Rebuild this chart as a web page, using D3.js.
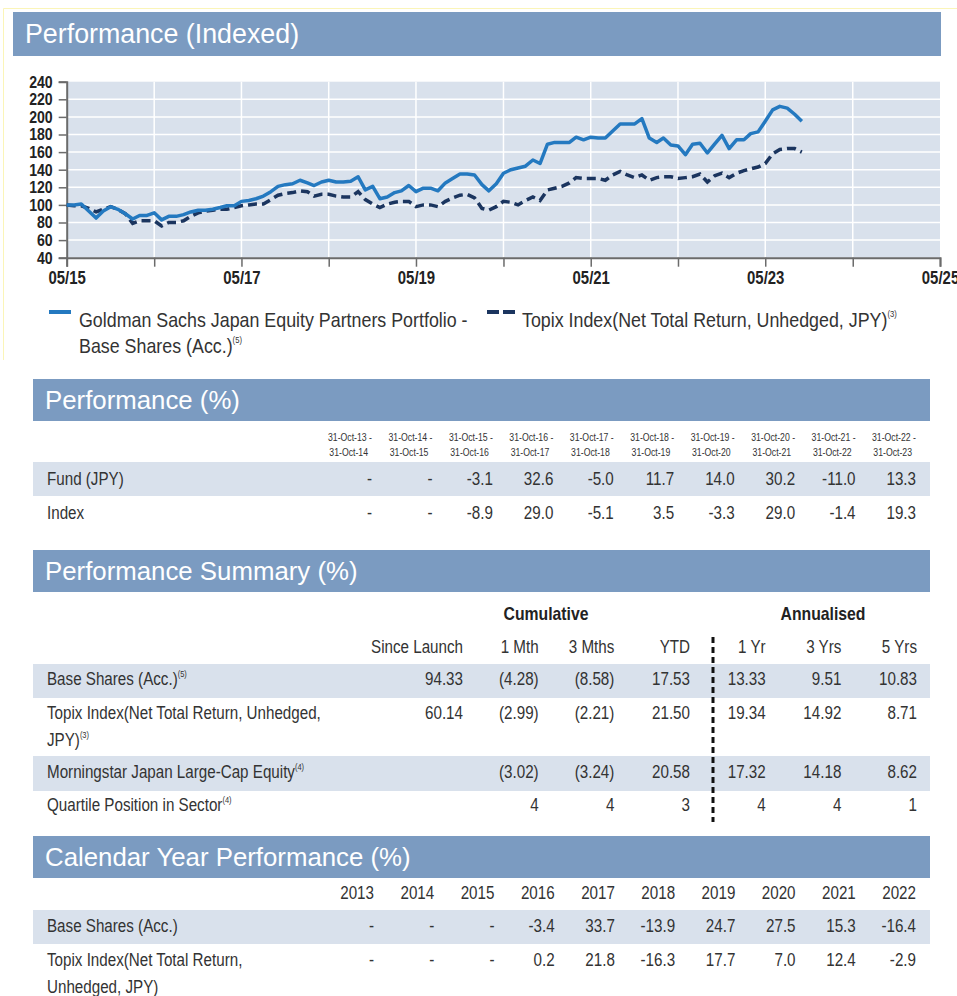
<!DOCTYPE html>
<html>
<head>
<meta charset="utf-8">
<script src="https://cdn.jsdelivr.net/npm/d3@7"></script>
<style>
  body { margin: 0; background: #fff; }
  svg { display: block; }
  text { font-family: "Liberation Sans", Arial, sans-serif; }
  .title { fill: #fff; font-size: 25.8px; }
</style>
</head>
<body>
<div id="chart"></div>
<script>
// monthly index values, 05/15 .. 10/23
const fundValues = [
  100, 100, 101, 93, 85, 93, 98, 95, 90, 84, 88, 88,
  91, 83, 87, 87, 89, 92, 94, 94, 95, 97, 99, 99,
  104, 105, 107, 110, 115, 121, 123, 124, 128, 125, 122, 126,
  128, 126, 126, 127, 132, 117, 121, 107, 109, 114, 116, 122,
  115, 119, 119, 116, 125, 130, 135, 135, 134, 123, 116, 124,
  136, 140, 142, 144, 151, 147, 169, 171, 171, 171, 177, 174,
  177, 176, 176, 184, 192, 192, 192, 198, 176, 171, 176, 168,
  167, 157, 169, 170, 159, 169, 179, 164, 174, 174, 181, 183,
  195, 208, 212, 210, 203, 195
];
const indexValues = [
  100, 99, 99, 96, 92, 95, 98, 95, 90, 79, 82, 82,
  82, 76, 80, 80, 82, 87, 91, 93, 94, 95, 95, 97,
  99, 100, 101, 101, 106, 111, 113, 114, 116, 115, 110, 112,
  112, 110, 109, 109, 115, 106, 101, 97, 101, 103, 104, 104,
  98, 100, 100, 98, 104, 108, 111, 112, 108, 96, 94, 98,
  104, 103, 100, 105, 109, 105, 117, 119, 121, 125, 131, 130,
  130, 130, 128, 134, 138, 134, 131, 134, 128, 131, 132, 132,
  130, 131, 132, 135, 126, 133, 136, 131, 136, 139, 141, 143,
  147, 158, 163, 164, 164, 160
];
const yTicks = [40, 60, 80, 100, 120, 140, 160, 180, 200, 220, 240];
const xTickLabels = ["05/15", "", "05/17", "", "05/19", "", "05/21", "", "05/23", "", "05/25"];

const perfPeriods = [
  ["31-Oct-13 -", "31-Oct-14"], ["31-Oct-14 -", "31-Oct-15"], ["31-Oct-15 -", "31-Oct-16"],
  ["31-Oct-16 -", "31-Oct-17"], ["31-Oct-17 -", "31-Oct-18"], ["31-Oct-18 -", "31-Oct-19"],
  ["31-Oct-19 -", "31-Oct-20"], ["31-Oct-20 -", "31-Oct-21"], ["31-Oct-21 -", "31-Oct-22"],
  ["31-Oct-22 -", "31-Oct-23"]
];
const perfFund = ["-", "-", "-3.1", "32.6", "-5.0", "11.7", "14.0", "30.2", "-11.0", "13.3"];
const perfIndex = ["-", "-", "-8.9", "29.0", "-5.1", "3.5", "-3.3", "29.0", "-1.4", "19.3"];

const summaryColumns = ["Since Launch", "1 Mth", "3 Mths", "YTD", "1 Yr", "3 Yrs", "5 Yrs"];
const summaryBase = ["94.33", "(4.28)", "(8.58)", "17.53", "13.33", "9.51", "10.83"];
const summaryTopix = ["60.14", "(2.99)", "(2.21)", "21.50", "19.34", "14.92", "8.71"];
const summaryMorningstar = ["", "(3.02)", "(3.24)", "20.58", "17.32", "14.18", "8.62"];
const summaryQuartile = ["", "4", "4", "3", "4", "4", "1"];

const calendarYears = ["2013", "2014", "2015", "2016", "2017", "2018", "2019", "2020", "2021", "2022"];
const calBase = ["-", "-", "-", "-3.4", "33.7", "-13.9", "24.7", "27.5", "15.3", "-16.4"];
const calTopix = ["-", "-", "-", "0.2", "21.8", "-16.3", "17.7", "7.0", "12.4", "-2.9"];

const W = 957, H = 996;
const SX = 0.83; // horizontal squeeze to mimic a condensed face
const headerColor = "#7b9bc1";
const bandColor = "#d9e1ec";
const textColor = "#333";
const fundColor = "#2479c0";
const indexColor = "#1b355f";

const svg = d3.select("#chart").append("svg").attr("width", W).attr("height", H);

// faint frame round the top block
svg.append("path")
  .attr("d", "M3.5,360 V8.5 H957")
  .attr("fill", "none").attr("stroke", "#fbf5b8").attr("stroke-width", 1);

let sx0 = 13, sx1 = 941;
function sectionHeader(y, h, label, size) {
  svg.append("rect").attr("x", sx0).attr("y", y).attr("width", sx1 - sx0).attr("height", h)
    .attr("fill", headerColor);
  const t = svg.append("text").attr("class", "title").attr("x", sx0 + 12).attr("y", y + h / 2 + 9).text(label);
  if (size) t.style("font-size", size + "px");
}

// condensed text at (x, y)
function ntext(parent, x, y, size, str, sx) {
  return parent.append("text")
    .attr("transform", `translate(${x},${y}) scale(${sx || SX},1)`)
    .attr("font-size", size).attr("fill", textColor).text(str);
}

sectionHeader(12, 44, "Performance (Indexed)", 26.8);

/* ---- line chart ---- */
const start = new Date(2015, 4, 1);
const months = fundValues.map((v, i) => d3.timeMonth.offset(start, i));
const series = [
  { name: "fund", values: fundValues.map((v, i) => ({ date: months[i], value: v })) },
  { name: "index", values: indexValues.map((v, i) => ({ date: months[i], value: v })) }
];
const years = xTickLabels.map((l, i) => d3.timeMonth.offset(start, 12 * i));

const x = d3.scaleTime().domain([start, years[years.length - 1]]).range([66.7, 940]);
const y = d3.scaleLinear().domain([40, 240]).range([257.7, 81.7]);

const plot = svg.append("g");
plot.append("rect").attr("x", x.range()[0]).attr("y", y(240))
  .attr("width", x.range()[1] - x.range()[0]).attr("height", y(40) - y(240))
  .attr("fill", bandColor);

plot.append("g").selectAll("line").data(yTicks.slice(1, -1)).join("line")
  .attr("x1", x.range()[0]).attr("x2", x.range()[1])
  .attr("y1", d => y(d)).attr("y2", d => y(d))
  .attr("stroke", "#fff").attr("stroke-width", 1.5);
plot.append("g").selectAll("line").data(years.slice(1, -1)).join("line")
  .attr("x1", d => x(d)).attr("x2", d => x(d))
  .attr("y1", y(240)).attr("y2", y(40))
  .attr("stroke", "#fff").attr("stroke-width", 1.5);

const yAxis = plot.append("g")
  .attr("transform", `translate(${x.range()[0]},0)`)
  .call(d3.axisLeft(y).tickValues(yTicks).tickSize(8).tickPadding(6));
const xAxis = plot.append("g")
  .attr("transform", `translate(0,${y(40)})`)
  .call(d3.axisBottom(x).tickValues(years).tickSize(9).tickPadding(5)
    .tickFormat((d, i) => xTickLabels[i]));
[yAxis, xAxis].forEach(a => {
  a.select(".domain").attr("stroke", "#6b6b6b").attr("stroke-width", 2);
  a.selectAll(".tick line").attr("stroke", "#6b6b6b").attr("stroke-width", 1.5);
  a.selectAll("text")
    .attr("font-family", "Liberation Sans, Arial, sans-serif")
    .attr("font-weight", "bold").attr("fill", "#222")
    .attr("transform", `scale(${SX},1)`);
});
yAxis.selectAll("text").attr("font-size", 17).attr("x", -14 / SX);
xAxis.selectAll("text").attr("font-size", 18);

const line = d3.line().x(d => x(d.date)).y(d => y(d.value));
plot.append("path").datum(series[1].values)
  .attr("d", line).attr("fill", "none").attr("stroke", indexColor)
  .attr("stroke-width", 3.5).attr("stroke-dasharray", "9,5");
plot.append("path").datum(series[0].values)
  .attr("d", line).attr("fill", "none").attr("stroke", fundColor)
  .attr("stroke-width", 3.5).attr("stroke-linejoin", "round");

/* ---- legend ---- */
const legend = svg.append("g");
legend.append("line").attr("x1", 49).attr("x2", 71).attr("y1", 312).attr("y2", 312)
  .attr("stroke", fundColor).attr("stroke-width", 4);
ntext(legend, 79, 327, 21, "Goldman Sachs Japan Equity Partners Portfolio -", 0.85);
ntext(legend, 79, 353, 21, "Base Shares (Acc.)", 0.85)
  .append("tspan").attr("font-size", 9).attr("dy", -10).text("(5)");
legend.append("line").attr("x1", 487).attr("x2", 515).attr("y1", 312).attr("y2", 312)
  .attr("stroke", indexColor).attr("stroke-width", 4).attr("stroke-dasharray", "12,4");
ntext(legend, 522, 327, 21, "Topix Index(Net Total Return, Unhedged, JPY)", 0.85)
  .append("tspan").attr("font-size", 9).attr("dy", -10).text("(3)");

/* ---- tables ---- */
sx0 = 33; sx1 = 930;

function band(y0, h) {
  svg.append("rect").attr("x", sx0).attr("y", y0).attr("width", sx1 - sx0).attr("height", h).attr("fill", bandColor);
}
function rowLabel(yy, text, sup) {
  const t = ntext(svg, 47, yy, 18.3, text);
  if (sup) t.append("tspan").attr("font-size", 9).attr("dy", -8).text(sup);
  return t;
}
function rowValues(yy, values, col, size, dx) {
  return svg.append("g").attr("font-size", size || 18.3).attr("fill", textColor)
    .attr("text-anchor", "end")
    .selectAll("text").data(values).join("text")
    .attr("transform", (d, i) => `translate(${col(i) + (dx || 0)},${yy}) scale(${SX},1)`)
    .text(d => d);
}

// Performance (%)
sectionHeader(379, 42, "Performance (%)");
const perfCol = d3.scaleLinear().domain([0, 9]).range([372, 916]);
rowValues(441, perfPeriods.map(d => d[0]), perfCol, 10.5);
rowValues(456, perfPeriods.map(d => d[1]), perfCol, 10.5, -4);
band(462, 34);
rowLabel(485, "Fund (JPY)");
rowValues(485, perfFund, perfCol);
rowLabel(519, "Index");
rowValues(519, perfIndex, perfCol);

// Performance Summary (%)
sectionHeader(550, 42, "Performance Summary (%)");
const sumCol = d3.scaleLinear().domain([0, 6]).range([463, 917]);
ntext(svg, 546, 620, 19, "Cumulative").attr("font-weight", "bold").attr("fill", "#222")
  .attr("text-anchor", "middle");
ntext(svg, 823, 620, 19, "Annualised").attr("font-weight", "bold").attr("fill", "#222")
  .attr("text-anchor", "middle");
rowValues(653, summaryColumns, sumCol);
band(664, 34);
rowLabel(685, "Base Shares (Acc.)", "(5)");
rowValues(685, summaryBase, sumCol);
rowLabel(719, "Topix Index(Net Total Return, Unhedged,");
rowLabel(746, "JPY)", "(3)");
rowValues(719, summaryTopix, sumCol);
band(756, 35);
rowLabel(778, "Morningstar Japan Large-Cap Equity", "(4)");
rowValues(778, summaryMorningstar, sumCol);
rowLabel(811, "Quartile Position in Sector", "(4)");
rowValues(811, summaryQuartile, sumCol);
svg.append("line").attr("x1", 713).attr("x2", 713).attr("y1", 637).attr("y2", 822)
  .attr("stroke", "#111").attr("stroke-width", 3).attr("stroke-dasharray", "6,4");

// Calendar Year Performance (%)
sectionHeader(836, 42, "Calendar Year Performance (%)");
const calCol = d3.scaleLinear().domain([0, 9]).range([374, 916]);
rowValues(899, calendarYears, calCol);
band(910, 34);
rowLabel(932, "Base Shares (Acc.)");
rowValues(932, calBase, calCol);
rowLabel(966, "Topix Index(Net Total Return,");
rowLabel(993, "Unhedged, JPY)");
rowValues(966, calTopix, calCol);
</script>
</body>
</html>
